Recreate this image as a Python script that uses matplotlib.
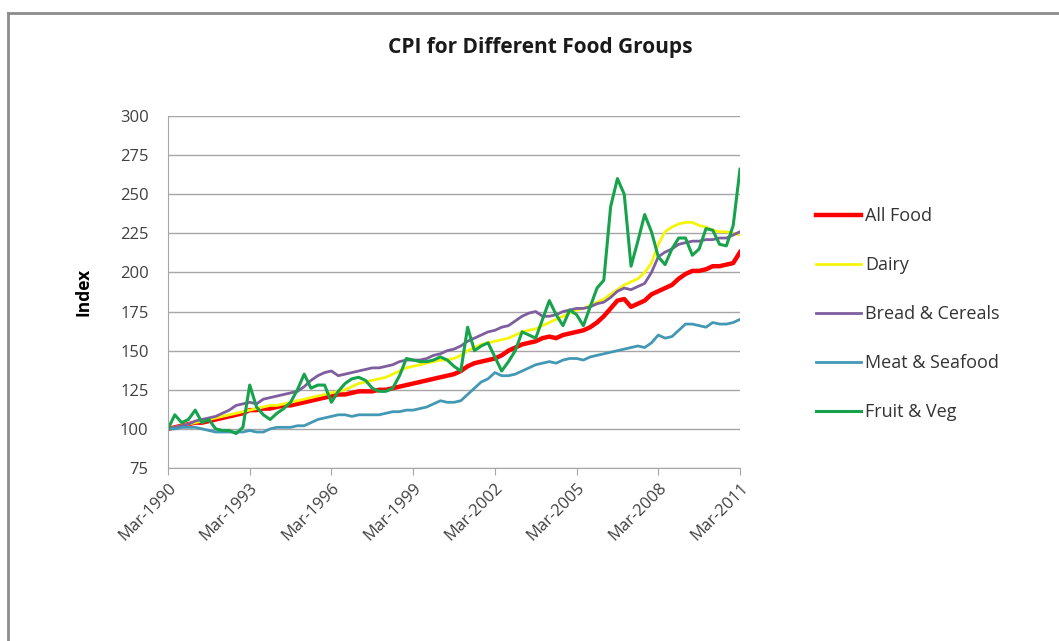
import numpy as np
import pandas as pd
import matplotlib
matplotlib.use("Agg")
import matplotlib.pyplot as plt
from matplotlib.lines import Line2D

# Quarterly CPI, Mar-1990 .. Mar-2011 (index, Mar-1990 = 100)
quarters = pd.period_range("1990Q1", "2011Q1", freq="Q")

all_food = [100, 101, 102, 103, 104, 104, 105, 106, 107, 108, 109, 110, 112, 112, 113, 113,
            114, 115, 115, 116, 117, 118, 119, 120, 121, 122, 122, 123, 124, 124, 124, 125,
            125, 126, 127, 128, 129, 130, 131, 132, 133, 134, 135, 137, 140, 142, 143, 144,
            145, 147, 150, 152, 154, 155, 156, 158, 159, 158, 160, 161, 162, 163, 165, 168,
            172, 177, 182, 183, 178, 180, 182, 186, 188, 190, 192, 196, 199, 201, 201, 202,
            204, 204, 205, 206, 213]

dairy = [100, 101, 102, 103, 104, 105, 106, 107, 108, 109, 110, 111, 112, 113, 114, 115,
         115, 116, 117, 118, 119, 120, 121, 122, 123, 124, 125, 127, 129, 130, 131, 132,
         133, 135, 137, 139, 140, 141, 142, 143, 144, 144, 145, 147, 150, 152, 154, 155,
         156, 157, 158, 160, 162, 163, 164, 166, 168, 170, 172, 174, 176, 177, 179, 181,
         183, 186, 189, 192, 194, 196, 200, 206, 218, 226, 229, 231, 232, 232, 230, 229,
         227, 226, 226, 225, 224]

bread = [100, 101, 102, 103, 105, 106, 107, 108, 110, 112, 115, 116, 117, 116, 119, 120,
         121, 122, 123, 124, 127, 131, 134, 136, 137, 134, 135, 136, 137, 138, 139, 139,
         140, 141, 143, 144, 144, 144, 145, 147, 148, 150, 151, 153, 156, 158, 160, 162,
         163, 165, 166, 169, 172, 174, 175, 172, 172, 173, 175, 176, 177, 177, 178, 180,
         181, 184, 188, 190, 189, 191, 193, 200, 210, 213, 215, 218, 219, 220, 220, 221,
         221, 222, 222, 224, 226]

meat = [100, 100, 101, 101, 101, 100, 99, 98, 98, 98, 98, 98, 99, 98, 98, 100,
        101, 101, 101, 102, 102, 104, 106, 107, 108, 109, 109, 108, 109, 109, 109, 109,
        110, 111, 111, 112, 112, 113, 114, 116, 118, 117, 117, 118, 122, 126, 130, 132,
        136, 134, 134, 135, 137, 139, 141, 142, 143, 142, 144, 145, 145, 144, 146, 147,
        148, 149, 150, 151, 152, 153, 152, 155, 160, 158, 159, 163, 167, 167, 166, 165,
        168, 167, 167, 168, 170]

fruit_veg = [100, 109, 104, 106, 112, 104, 106, 100, 99, 99, 97, 101, 128, 114, 109, 106,
             110, 113, 117, 125, 135, 126, 128, 128, 117, 124, 129, 132, 133, 131, 126, 124,
             124, 126, 134, 145, 144, 143, 143, 144, 146, 144, 140, 137, 165, 150, 153, 155,
             146, 137, 143, 150, 162, 160, 158, 170, 182, 173, 166, 176, 173, 166, 178, 190,
             195, 242, 260, 250, 204, 220, 237, 226, 210, 205, 215, 222, 222, 211, 215, 228,
             227, 218, 217, 230, 266]

series = ["All Food", "Dairy", "Bread & Cereals", "Meat & Seafood", "Fruit & Veg"]
colors = ["#FF0000", "#F5F50A", "#7E5E9E", "#4398B4", "#17A24C"]
widths = [3.2, 2.0, 2.0, 2.0, 2.2]

df = pd.DataFrame({"All Food": all_food, "Dairy": dairy, "Bread & Cereals": bread,
                   "Meat & Seafood": meat, "Fruit & Veg": fruit_veg},
                  index=[q.strftime("%b-%Y") for q in quarters.asfreq("M", "end")])

fig = plt.figure(figsize=(10.59, 6.41), dpi=100)
plt.rcParams["font.family"] = ["Open Sans", "DejaVu Sans"]

# outer chart frame (Excel style)
fig.add_artist(Line2D([8 / 1059, 8 / 1059], [0, 1 - 13 / 641], transform=fig.transFigure,
                      color="#8c8c8c", lw=2))
fig.add_artist(Line2D([8 / 1059, 1], [1 - 13 / 641, 1 - 13 / 641], transform=fig.transFigure,
                      color="#8c8c8c", lw=2))

ax = fig.add_axes([168 / 1059, 1 - 468 / 641, 572 / 1059, 352 / 641])
x = np.arange(len(df))
for name, c, w in zip(series, colors, widths):
    ax.plot(x, df[name], color=c, lw=w, label=name, solid_joinstyle="round")

ax.set_xlim(0, len(df) - 1)
ax.set_ylim(75, 300)
ax.set_yticks(range(75, 301, 25))
ax.yaxis.grid(True, color="#a6a6a6", lw=1)
ax.set_axisbelow(True)
for s in ["top", "right"]:
    ax.spines[s].set_visible(False)
for s in ["left", "bottom"]:
    ax.spines[s].set_color("#a6a6a6")
ax.tick_params(axis="y", length=0, labelsize=12, labelcolor="#404040", pad=14)
ax.tick_params(axis="x", length=5, color="#a6a6a6", labelsize=12, labelcolor="#404040")

ticks = x[::12]
ax.set_xticks(ticks)
ax.set_xticklabels(df.index[::12], rotation=45, ha="right", rotation_mode="anchor")

ax.set_ylabel("Index", fontsize=12.5, fontweight="bold", labelpad=20)
fig.text(540 / 1059, 1 - 48 / 641, "CPI for Different Food Groups", ha="center", va="center",
         fontsize=15, fontweight="bold", color="#1a1a1a")

fig.legend(loc="upper left", bbox_to_anchor=(800 / 1059, 1 - 191 / 641), frameon=False,
           fontsize=13, handlelength=2.5, handletextpad=0.2, labelspacing=1.72,
           labelcolor="#333333")

plt.savefig("out.png", dpi=100)
